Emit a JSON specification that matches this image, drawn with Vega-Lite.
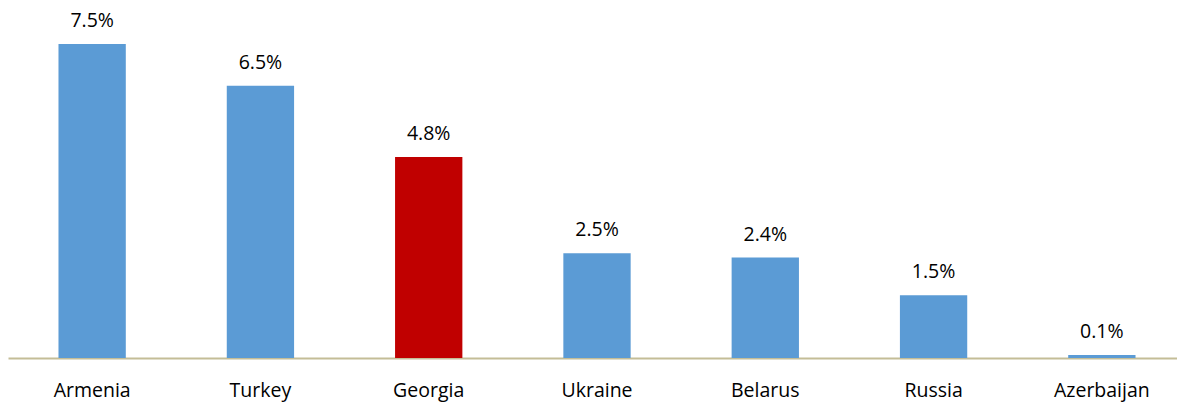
{
  "$schema": "https://vega.github.io/schema/vega-lite/v6.json",
  "width": 1178,
  "height": 314,
  "autosize": {"type": "none"},
  "padding": {"left": 8, "top": 44, "right": 0, "bottom": 44},
  "background": "white",
  "config": {"view": {"stroke": null}, "font": "Open Sans"},
  "data": {
    "values": [
      {"country": "Armenia", "value": 7.5, "label": "7.5%", "highlight": "no"},
      {"country": "Turkey", "value": 6.5, "label": "6.5%", "highlight": "no"},
      {"country": "Georgia", "value": 4.8, "label": "4.8%", "highlight": "yes"},
      {"country": "Ukraine", "value": 2.5, "label": "2.5%", "highlight": "no"},
      {"country": "Belarus", "value": 2.4, "label": "2.4%", "highlight": "no"},
      {"country": "Russia", "value": 1.5, "label": "1.5%", "highlight": "no"},
      {"country": "Azerbaijan", "value": 0.07, "label": "0.1%", "highlight": "no"}
    ]
  },
  "encoding": {
    "x": {
      "field": "country", "type": "nominal", "sort": null,
      "scale": {"paddingInner": 0.6, "paddingOuter": 0.3},
      "axis": {"title": null, "labelAngle": 0, "ticks": false, "domainColor": "#C4BD97", "domainWidth": 2, "labelFontSize": 19.5, "labelColor": "#000000", "labelPadding": 23, "labelFont": "Open Sans"}
    },
    "y": {
      "field": "value", "type": "quantitative",
      "scale": {"domain": [0, 7.5], "nice": false},
      "axis": null
    }
  },
  "layer": [
    {
      "mark": {"type": "bar"},
      "encoding": {
        "color": {
          "field": "highlight", "type": "nominal",
          "scale": {"domain": ["no", "yes"], "range": ["#5B9BD5", "#C00000"]},
          "legend": null
        }
      }
    },
    {
      "mark": {"type": "text", "baseline": "alphabetic", "dy": -17, "fontSize": 19.5, "color": "#000000", "font": "Open Sans"},
      "encoding": {
        "text": {"field": "label", "type": "nominal"}
      }
    }
  ]
}
